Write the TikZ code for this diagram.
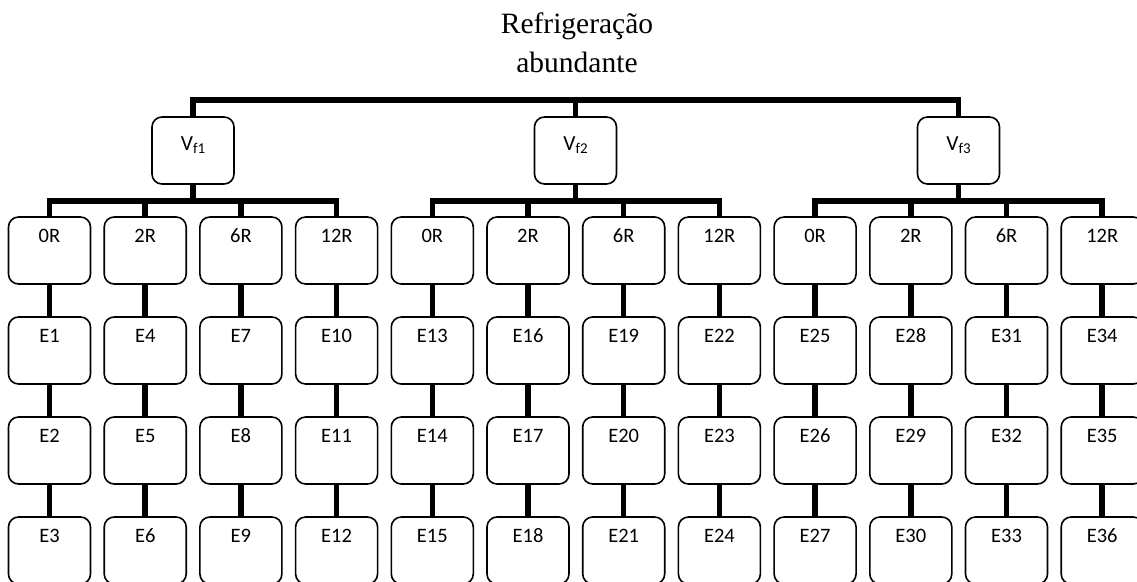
\documentclass[tikz,border=0pt]{standalone}
\usepackage{fontspec}
\usetikzlibrary{calc}
\setmainfont{Carlito}
\newfontfamily\titlefont{Liberation Serif}
\begin{document}
\begin{tikzpicture}[x=1pt, y=-1pt,
  box/.style={draw, line width=1.6pt, rounded corners=10pt,
    minimum width=82pt, inner xsep=0pt, inner ysep=0pt,
    text height=25pt, text depth=42pt,
    font=\fontsize{20.5}{24}\selectfont},
  vbox/.style={box, text height=33pt, text depth=34pt},
  bus/.style={line width=5.5pt},
  link/.style={line width=5.5pt}]
\useasboundingbox (0,0) rectangle (1137,581);
\clip (0,0) rectangle (1137,581);

% title
\node[anchor=base, align=center, inner sep=0pt,
  font=\titlefont\fontsize{29.5}{39}\selectfont] (title) at (577,72)
  {Refrigeração\\abundante};

% cutting-speed boxes
\foreach \g/\x in {1/193, 2/575.5, 3/958.5}
  \node[vbox] (v\g) at (\x,150.5)
    {\fontsize{21.5}{24}\selectfont V\raisebox{-0.3ex}{\fontsize{15}{15}\selectfont f\g}};

% top bus
\coordinate (topbus) at (575.5,100);
\draw[bus] (v1.north) -- (v1.north |- topbus) -- (v3.north |- topbus) -- (v3.north);
\draw[bus] (v2.north) -- (v2.north |- topbus);

% columns: radius boxes and experiment boxes
\foreach \k [evaluate=\k as \cx using 49.5+95.7*\k,
             evaluate=\k as \na using int(3*\k+1),
             evaluate=\k as \nb using int(3*\k+2),
             evaluate=\k as \nc using int(3*\k+3)] in {0,...,11}{
  \pgfmathtruncatemacro{\rr}{mod(\k,4)}
  \ifcase\rr \def\lab{0R}\or \def\lab{2R}\or \def\lab{6R}\or \def\lab{12R}\fi
  \node[box] (r\k) at (\cx,250.5) {\lab};
  \node[box] (ea\k) at (\cx,350.5) {E\na};
  \node[box] (eb\k) at (\cx,450.5) {E\nb};
  \node[box] (ec\k) at (\cx,550.5) {E\nc};
  \draw[link] (r\k.south) -- (ea\k.north);
  \draw[link] (ea\k.south) -- (eb\k.north);
  \draw[link] (eb\k.south) -- (ec\k.north);
}

% lower buses
\foreach \g/\a/\d in {1/0/3, 2/4/7, 3/8/11}{
  \coordinate (low\g) at ($(v\g.south)+(0,16)$);
  \draw[bus] (v\g.south) -- (low\g);
  \draw[bus] (r\a.north) -- (r\a.north |- low\g) -- (r\d.north |- low\g) -- (r\d.north);
}
\foreach \k in {1,2,5,6,9,10}
  \draw[bus] (r\k.north) -- ++(0,-17);
\end{tikzpicture}
\end{document}
